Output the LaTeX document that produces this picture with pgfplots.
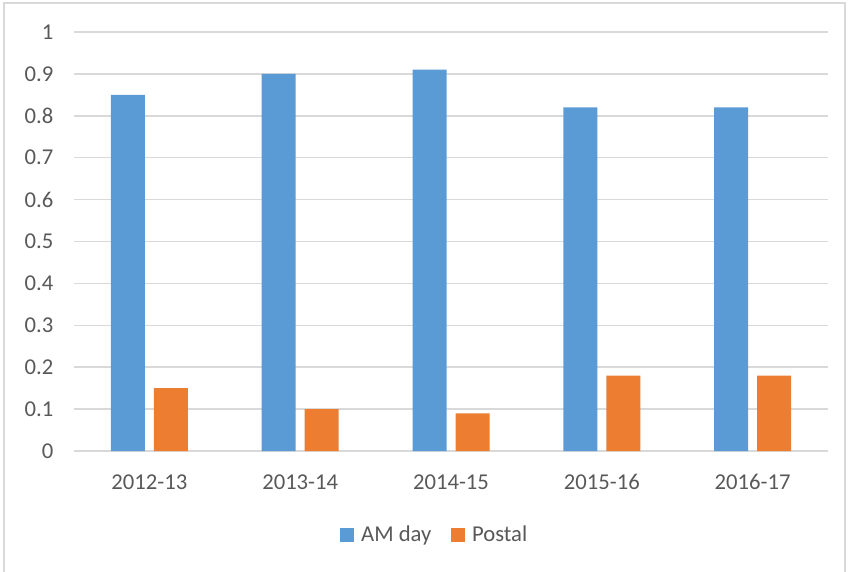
\documentclass[border=0pt]{standalone}
\usepackage{fontspec}
\setmainfont{Carlito}
\usepackage{pgfplots}
\pgfplotsset{compat=1.18}
\definecolor{amblue}{HTML}{5B9BD5}
\definecolor{postorange}{HTML}{ED7D31}
\definecolor{gridgray}{HTML}{D9D9D9}
\definecolor{txtgray}{HTML}{595959}
\begin{document}
\begin{tikzpicture}
\useasboundingbox (0pt,0pt) rectangle (636.75pt,428.25pt);
\draw[gridgray, line width=1pt] (3pt,-10pt) rectangle (633.75pt,426pt);
\begin{axis}[
  at={(55.5pt,90pt)}, anchor=south west,
  scale only axis, width=565.5pt, height=314.25pt,
  xmin=-0.5, xmax=4.5, ymin=0, ymax=1,
  ybar=6.75pt, bar width=25.5pt,
  xtick={0,1,2,3,4},
  xticklabels={2012-13,2013-14,2014-15,2015-16,2016-17},
  ytick={0,0.1,0.2,0.3,0.4,0.5,0.6,0.7,0.8,0.9,1},
  yticklabels={0,0.1,0.2,0.3,0.4,0.5,0.6,0.7,0.8,0.9,1},
  axis line style={draw=none},
  major tick length=0pt,
  ymajorgrids, grid style={gridgray, line width=1.1pt},
  ticklabel style={font=\fontsize{17}{20}\selectfont, text=txtgray},
  yticklabel style={xshift=-12pt},
  xticklabel style={yshift=-14pt},
  /pgf/number format/assume math mode=true,
  legend style={at={(0.479,-0.2)}, anchor=center, draw=none,
    font=\fontsize{17}{20}\selectfont, text=txtgray,
    legend columns=2, /tikz/every even column/.append style={column sep=13pt}},
  legend image code/.code={\fill[#1] (0pt,-5.25pt) rectangle (10.5pt,5.25pt); \path (13.5pt,0pt);},
]
\addplot[fill=amblue, draw=none] coordinates {(0,0.85) (1,0.90) (2,0.91) (3,0.82) (4,0.82)};
\addplot[fill=postorange, draw=none] coordinates {(0,0.15) (1,0.10) (2,0.09) (3,0.18) (4,0.18)};
\legend{AM day, Postal}
\end{axis}
\end{tikzpicture}
\end{document}
